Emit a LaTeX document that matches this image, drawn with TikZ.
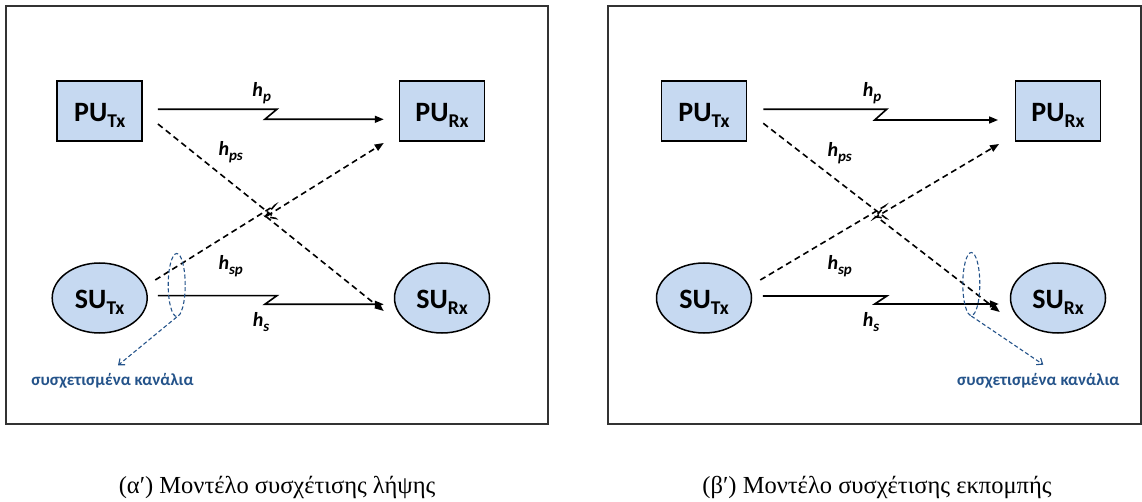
\documentclass[tikz,border=0pt]{standalone}
\usepackage{fontspec}
\setmainfont{Liberation Serif}
\newfontfamily\calfont{Carlito}
\usetikzlibrary{arrows.meta,shapes.geometric,calc}

\definecolor{unitfill}{HTML}{C6D9F1}
\definecolor{noteblue}{HTML}{24538A}

\newcommand{\usub}[1]{\raisebox{-6.5pt}{\fontsize{19.5}{20}\selectfont #1}}
\newcommand{\gain}[1]{\textit{h}\raisebox{-5pt}{\fontsize{15}{15}\selectfont\textit{#1}}}

\tikzset{
  unit/.style={draw=black, line width=1.5pt, fill=unitfill, inner sep=0pt,
    font=\calfont\bfseries\fontsize{28}{30}\selectfont, text height=21pt, text depth=0pt},
  pubox/.style={unit, rectangle, minimum width=85pt, minimum height=60pt},
  subox/.style={unit, ellipse, minimum width=95pt, minimum height=70pt},
  link/.style={line width=1.6pt, -{Triangle[length=9pt,width=7pt]}},
  xlink/.style={link, dash pattern=on 6pt off 4pt},
  gain/.style={font=\calfont\bfseries\fontsize{20}{22}\selectfont, inner sep=0pt, anchor=base},
  ring/.style={ellipse, draw=noteblue, line width=1.1pt, dash pattern=on 4pt off 2.5pt,
    minimum width=17pt, minimum height=63pt, inner sep=0pt},
  notearrow/.style={draw=noteblue, line width=1.1pt, dash pattern=on 4pt off 2.5pt,
    -{Straight Barb[length=5pt,width=8pt]}},
  note/.style={font=\calfont\bfseries\fontsize{17}{19}\selectfont, text=noteblue,
    inner sep=0pt, anchor=base},
  panel/.style={draw=black!80, line width=1.8pt, inner sep=0pt},
  caption/.style={font=\fontsize{24.5}{26}\selectfont, anchor=base}
}

% straight channel with a small step in the middle
\newcommand{\flatzig}[2]{%
  \draw[link] (#1) -- ($(#1)!.5!(#2|-#1)+(6,0)$) -- ($(#1|-#2)!.5!(#2)+(-6,0)$) -- (#2);}
% dashed cross channel with a small step in the middle
\newcommand{\slantzig}[2]{%
  \coordinate (zm) at ($(#1)!.5!(#2)$);
  \draw[xlink] (#1) -- ($(zm)!6pt!(#2)+(0,-3)$) -- ($(zm)!6pt!(#1)+(0,3)$) -- (#2);}

\begin{document}
\begin{tikzpicture}[x=1pt,y=-1pt]
  \useasboundingbox (0,0) rectangle (1142,502);

  % (a) receive correlation
  \draw[panel] (6.3,5.7) rectangle (547.7,424);
  \node[pubox] (PUtxA) at (99.7,111) {PU\usub{Tx}};
  \node[pubox] (PUrxA) at (442,111) {PU\usub{Rx}};
  \node[subox] (SUtxA) at (99.7,298) {SU\usub{Tx}};
  \node[subox] (SUrxA) at (442,298) {SU\usub{Rx}};

  \coordinate (hpA1) at ([xshift=15pt,yshift=1.7pt]PUtxA.east);
  \coordinate (hpA2) at ([xshift=-15pt,yshift=-8.3pt]PUrxA.west);
  \coordinate (hsA1) at ([xshift=10pt,yshift=2.3pt]SUtxA.east);
  \coordinate (hsA2) at ([xshift=-10pt,yshift=-6.3pt]SUrxA.west);
  \coordinate (hpsA1) at ([xshift=15pt,yshift=-13pt]PUtxA.east);
  \coordinate (hpsA2) at ([xshift=-10pt,yshift=-13pt]SUrxA.west);
  \coordinate (hspA1) at ([xshift=7.3pt,yshift=18pt]SUtxA.east);
  \coordinate (hspA2) at ([xshift=-15pt,yshift=-32pt]PUrxA.west);
  \flatzig{hpA1}{hpA2}
  \flatzig{hsA1}{hsA2}
  \slantzig{hpsA1}{hpsA2}
  \slantzig{hspA1}{hspA2}

  \node[gain] (gpA) at (261.7,96.7) {\gain{p}};
  \node[gain] (gpsA) at (230.7,156) {\gain{ps}};
  \node[gain] (gspA) at (230.7,269.3) {\gain{sp}};
  \node[gain] (gsA) at (261,326.7) {\gain{s}};

  \node[ring] (ringA) at (176.7,285) {};
  \node[note] (noteA) at (112.5,385.7) {συσχετισμένα κανάλια};
  \draw[notearrow] (ringA.south) -- ([xshift=5.5pt,yshift=8pt]noteA.north);

  \node[caption] (capA) at (277,493) {(α′) Μοντέλο συσχέτισης λήψης};

  % (b) transmit correlation
  \draw[panel] (608.3,5.7) rectangle (1141,424);
  \node[pubox] (PUtxB) at (704,111) {PU\usub{Tx}};
  \node[pubox] (PUrxB) at (1058,111) {PU\usub{Rx}};
  \node[subox] (SUtxB) at (704,298) {SU\usub{Tx}};
  \node[subox] (SUrxB) at (1058,298) {SU\usub{Rx}};

  \coordinate (hpB1) at ([xshift=16pt,yshift=1.7pt]PUtxB.east);
  \coordinate (hpB2) at ([xshift=-16.7pt,yshift=-9pt]PUrxB.west);
  \coordinate (hsB1) at ([xshift=10.6pt,yshift=2pt]SUtxB.east);
  \coordinate (hsB2) at ([xshift=-11pt,yshift=-6pt]SUrxB.west);
  \coordinate (hpsB1) at ([xshift=16pt,yshift=-12.3pt]PUtxB.east);
  \coordinate (hpsB2) at ([xshift=-10pt,yshift=-14pt]SUrxB.west);
  \coordinate (hspB1) at ([xshift=8pt,yshift=18pt]SUtxB.east);
  \coordinate (hspB2) at ([xshift=-15.7pt,yshift=-33pt]PUrxB.west);
  \flatzig{hpB1}{hpB2}
  \flatzig{hsB1}{hsB2}
  \slantzig{hpsB1}{hpsB2}
  \slantzig{hspB1}{hspB2}

  \node[gain] (gpB) at (872,96.7) {\gain{p}};
  \node[gain] (gpsB) at (839.7,156.7) {\gain{ps}};
  \node[gain] (gspB) at (839.7,270) {\gain{sp}};
  \node[gain] (gsB) at (871,326.7) {\gain{s}};

  \node[ring] (ringB) at (971.3,284) {};
  \node[note] (noteB) at (1038.3,385) {συσχετισμένα κανάλια};
  \draw[notearrow] (ringB.south) -- ([xshift=5pt,yshift=8pt]noteB.north);

  \node[caption] (capB) at (877,493) {(β′) Μοντέλο συσχέτισης εκπομπής};
\end{tikzpicture}
\end{document}
